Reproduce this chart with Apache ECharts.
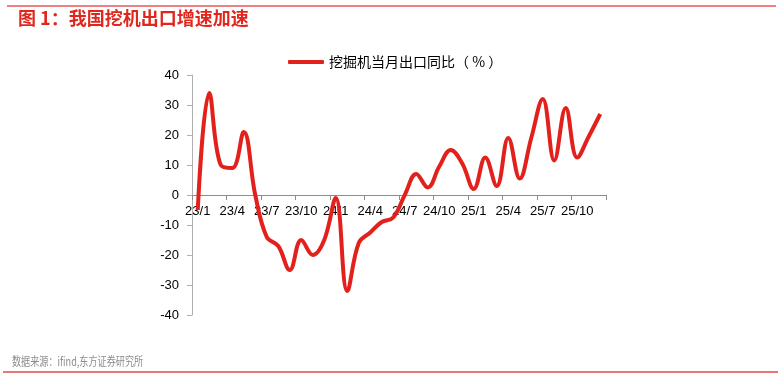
<!DOCTYPE html>
<html>
<head>
<meta charset="utf-8">
<script src="https://cdn.jsdelivr.net/npm/echarts@6/dist/echarts.min.js"></script>
<style>html,body{margin:0;padding:0;background:#fff;}#c{width:782px;height:379px;}</style>
</head>
<body>
<div id="c"></div>
<script>
var titleText = '图 1：我国挖机出口增速加速';
var sourceText = '数据来源：ifind,东方证券研究所';
var seriesName = '挖掘机当月出口同比（ % ）';
var categories = [
  '23/1','23/2','23/3','23/4','23/5','23/6','23/7','23/8','23/9','23/10','23/11','23/12',
  '24/1','24/2','24/3','24/4','24/5','24/6','24/7','24/8','24/9','24/10','24/11','24/12',
  '25/1','25/2','25/3','25/4','25/5','25/6','25/7','25/8','25/9','25/10','25/11','25/12'
];
var values = [
  -5, 34, 10, 9, 21, 0, -14, -17, -25, -15, -20, -15,
  -1, -32, -16, -12.5, -9, -7.5, 0, 7, 2.5, 9.5, 15, 10.5,
  2, 12.5, 3, 19, 5.5, 19, 32, 11.5, 29, 12.5, 19.5, 27
];
var yMin = -40, yMax = 40, yStep = 10;

var gridTop = 75, gridBottom = 64, H = 379;
var gridH = H - gridTop - gridBottom;
var zeroOffset = -gridH * (0 - yMin) / (yMax - yMin);

var chart = echarts.init(document.getElementById('c'), null, {renderer: 'canvas'});
chart.setOption({
  animation: false,
  backgroundColor: '#fff',
  textStyle: {fontFamily: 'Liberation Sans, Arial, sans-serif'},
  grid: {left: 192, right: 176, top: gridTop, bottom: gridBottom, containLabel: false},
  legend: {
    data: [seriesName],
    top: 50, left: 283,
    itemWidth: 36, itemHeight: 4, itemGap: 4,
    icon: 'roundRect',
    textStyle: {fontFamily: 'Noto Sans CJK SC, sans-serif', fontSize: 14, color: '#000'}
  },
  xAxis: {
    type: 'category',
    data: categories,
    boundaryGap: true,
    offset: zeroOffset,
    z: 0,
    axisLine: {onZero: false, lineStyle: {color: '#8c8c8c', width: 1}},
    axisTick: {show: true, interval: 2, length: 5, inside: false, lineStyle: {color: '#8c8c8c'}},
    axisLabel: {interval: 2, color: '#000', fontSize: 13, margin: 10, fontFamily: 'Liberation Sans, Arial, sans-serif'},
    splitLine: {show: false}
  },
  yAxis: {
    type: 'value',
    min: yMin, max: yMax, interval: yStep,
    axisLine: {show: true, lineStyle: {color: '#b0b0b0', width: 1}},
    axisTick: {show: true, length: 5, lineStyle: {color: '#b0b0b0'}},
    axisLabel: {color: '#000', fontSize: 13, margin: 13, fontFamily: 'Liberation Sans, Arial, sans-serif'},
    splitLine: {show: false}
  },
  series: [{
    name: seriesName,
    type: 'line',
    data: values,
    smooth: 0.4,
    symbol: 'none',
    z: 5,
    lineStyle: {color: '#e3211c', width: 4},
    itemStyle: {color: '#e3211c'}
  }],
  graphic: [
    {type: 'line', shape: {x1: 7, y1: 6, x2: 776, y2: 6}, style: {stroke: '#e8595a', lineWidth: 1.5}},
    {type: 'text', left: 18, top: 9, style: {text: titleText, fill: '#e0261d', font: 'bold 18px "Noto Sans CJK SC", sans-serif'}},
    {type: 'text', left: 12, top: 355, scaleX: 0.76, style: {text: sourceText, fill: '#8c8c8c', font: '12px "Noto Sans CJK SC", sans-serif'}},
    {type: 'line', shape: {x1: 3, y1: 372, x2: 778, y2: 372}, style: {stroke: '#e04848', lineWidth: 1.5}}
  ]
});
</script>
</body>
</html>
